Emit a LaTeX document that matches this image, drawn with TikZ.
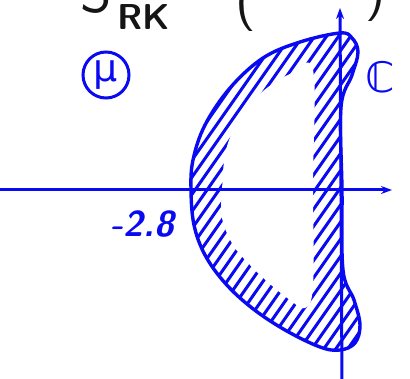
\documentclass[tikz,border=0pt]{standalone}
\usepackage{fontspec}
\usetikzlibrary{arrows.meta}
\newfontfamily\symfont{DejaVu Sans}
\definecolor{penblue}{HTML}{0A0AF2}
\definecolor{inkblack}{HTML}{151515}

\begin{document}
\begin{tikzpicture}[x=1pt,y=-1pt,font=\sffamily,
  axis/.style={penblue,line width=3pt,-{Stealth[length=11pt,width=8pt]}},
  rim/.style={penblue,line width=3.4pt,line join=round},
  hatchline/.style={penblue,line width=3pt,line cap=round},
  lbl/.style={penblue,inner sep=0pt},
  title/.style={inkblack,inner sep=0pt}]
  \useasboundingbox (0,0) rectangle (410,379);
  % hatching of the stability region
  \begin{scope}
    \clip plot[smooth cycle,tension=0.6] coordinates {(340,33) (300,42) (263,58) (230,88) (205,125) (193,160) (191,190) (194,225) (205,255) (225,283) (252,308) (285,330) (320,347) (340,350) (355,343) (360,325) (354,300) (343,270) (342,190) (341,107) (352,75) (358,52) (352,38)};
    \foreach \c in {280,292,...,610} \draw[hatchline] (\c,0) -- (\c-280,400);
  \end{scope}
  \fill[white] plot[smooth cycle,tension=0.6] coordinates {(222,190) (226,150) (240,118) (262,92) (290,74) (313,70) (313,180) (313,285) (305,308) (290,300) (270,284) (250,265) (233,245) (222,218)};
  \draw[rim] plot[smooth cycle,tension=0.6] coordinates {(340,33) (300,42) (263,58) (230,88) (205,125) (193,160) (191,190) (194,225) (205,255) (225,283) (252,308) (285,330) (320,347) (340,350) (355,343) (360,325) (354,300) (343,270) (342,190) (341,107) (352,75) (358,52) (352,38)};
  % axes
  \coordinate (xl) at (-5,190);
  \coordinate (xr) at (392,190);
  \coordinate (yb) at (342,385);
  \coordinate (yt) at (340,8);
  \draw[axis] (xl) -- (xr);
  \draw[axis] (yb) -- (yt);
  % labels
  \node[lbl,font=\sffamily\fontsize{36}{40}\selectfont\bfseries\itshape] (crit) at (142,224) {-2.8};
  \node[lbl,circle,draw,line width=3pt,minimum size=46pt,font=\symfont\fontsize{38}{40}\selectfont] (mu) at (106,75) {μ};
  \node[lbl,font=\symfont\fontsize{42}{44}\selectfont] (cc) at (380,77) {ℂ};
  % heading, cut at the top
  \node[title,font=\sffamily\fontsize{60}{60}\selectfont,anchor=south] (s) at (96,14) {S};
  \node[title,font=\sffamily\bfseries\fontsize{36}{38}\selectfont] (rk) at (144,17) {RK};
  \node[title,font=\sffamily\fontsize{56}{60}\selectfont,anchor=base] (lp) at (246,18) {(};
  \node[title,font=\sffamily\fontsize{56}{60}\selectfont,anchor=base] (rp) at (376,8) {)};
\end{tikzpicture}
\end{document}
